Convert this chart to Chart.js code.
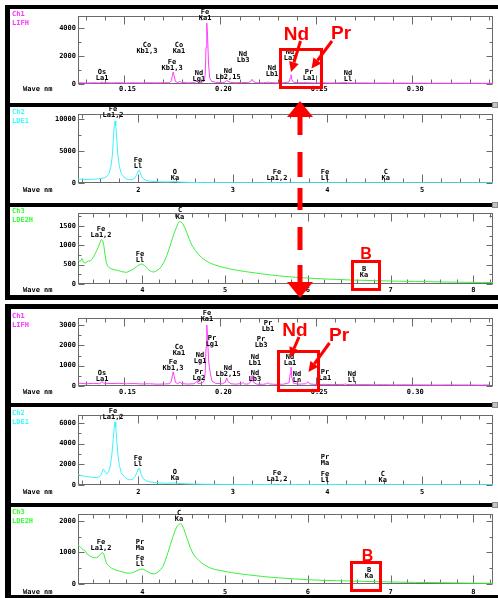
<!DOCTYPE html>
<html><head><meta charset="utf-8">
<script src="https://cdn.jsdelivr.net/npm/chart.js@4.4.1/dist/chart.umd.min.js"></script>
<style>
html,body{margin:0;padding:0;background:#fff;}
body{width:498px;height:598px;overflow:hidden;position:relative;}
canvas{position:absolute;left:0;z-index:2;}
.bar{position:absolute;background:#000;z-index:1;}
.sq{position:absolute;background:#c4c4c4;border:1px solid #8a8a8a;box-sizing:border-box;z-index:1;}
.hdr{position:absolute;left:12px;font:bold 7px "DejaVu Sans Mono",monospace;line-height:9px;z-index:3;white-space:pre;}
#ann{position:absolute;left:0;top:0;z-index:5;}
</style></head><body>
<div class="bar" style="left:5px;top:5px;width:493px;height:4px"></div>
<div class="bar" style="left:5px;top:5px;width:5px;height:295px"></div>
<div class="bar" style="left:5px;top:103px;width:487px;height:4px"></div>
<div class="bar" style="left:5px;top:203px;width:487px;height:4px"></div>
<div class="bar" style="left:5px;top:295px;width:493px;height:5px"></div>
<div class="bar" style="left:5px;top:304px;width:493px;height:5px"></div>
<div class="bar" style="left:5px;top:304px;width:6px;height:294px"></div>
<div class="bar" style="left:5px;top:403px;width:487px;height:4px"></div>
<div class="bar" style="left:5px;top:503px;width:487px;height:4px"></div>
<div class="bar" style="left:5px;top:595px;width:493px;height:3px"></div>
<div class="sq" style="left:492px;top:102px;width:6px;height:6px"></div>
<div class="sq" style="left:492px;top:202px;width:6px;height:6px"></div>
<div class="sq" style="left:492px;top:402px;width:6px;height:6px"></div>
<div class="sq" style="left:492px;top:502px;width:6px;height:6px"></div>

<div class="hdr" style="top:10px;color:#ff33ff">Ch1
LIFH</div>
<div class="hdr" style="top:108px;color:#33ffff">Ch2
LDE1</div>
<div class="hdr" style="top:207px;color:#33ff33">Ch3
LDE2H</div>
<div class="hdr" style="top:312px;color:#ff33ff">Ch1
LIFH</div>
<div class="hdr" style="top:409px;color:#33ffff">Ch2
LDE1</div>
<div class="hdr" style="top:508px;color:#33ff33">Ch3
LDE2H</div>

<canvas id="c1" width="498" height="93" style="top:4px"></canvas>
<canvas id="c2" width="498" height="94" style="top:102px"></canvas>
<canvas id="c3" width="498" height="96" style="top:201px"></canvas>
<canvas id="c4" width="498" height="93" style="top:306px"></canvas>
<canvas id="c5" width="498" height="95" style="top:403px"></canvas>
<canvas id="c6" width="498" height="95" style="top:502px"></canvas>

<svg id="ann" width="498" height="598" xmlns="http://www.w3.org/2000/svg">
 <g fill="none" stroke="#ff0000" stroke-width="3">
  <rect x="280.5" y="49.5" width="41" height="38"/>
  <rect x="278.5" y="351.5" width="40" height="39"/>
  <rect x="352.5" y="261.5" width="27" height="28"/>
  <rect x="351.5" y="562.5" width="29" height="28"/>
 </g>
 <g id="arrows" fill="#ff0000" stroke="none">
  <polygon points="300,101 287,117 313,117"/>
  <rect x="297.5" y="117" width="5" height="18"/>
  <rect x="297.5" y="152" width="5" height="25"/>
  <rect x="297.5" y="188" width="5" height="22"/>
  <rect x="297.5" y="227" width="5" height="23"/>
  <rect x="297.5" y="265" width="5" height="17"/>
  <polygon points="287,282 313,282 300,298"/>
 </g>
 <g fill="#ff0000" font-family="Liberation Sans, Arial, sans-serif" font-weight="bold" text-anchor="middle">
  <text x="296.5" y="39.5" font-size="19">Nd</text>
  <text x="341" y="38.5" font-size="19">Pr</text>
  <text x="295" y="335.5" font-size="19">Nd</text>
  <text x="339" y="341" font-size="19">Pr</text>
  <text x="366" y="258.5" font-size="16">B</text>
  <text x="367.5" y="561" font-size="16">B</text>
 </g>
</svg>

<script>
// ---------- tick values / labels ----------
const lifhTicks = [0.15, 0.20, 0.25, 0.30];
const lifhTickLabels = ['0.15', '0.20', '0.25', '0.30'];
const lde1Ticks = [2, 3, 4, 5];
const lde1TickLabels = ['2', '3', '4', '5'];
const lde2Ticks = [4, 5, 6, 7, 8];
const lde2TickLabels = ['4', '5', '6', '7', '8'];

const y1Ticks = [0, 2000, 4000];
const y2Ticks = [0, 5000, 10000];
const y3Ticks = [0, 500, 1000, 1500];
const y4Ticks = [0, 1000, 2000, 3000];
const y5Ticks = [0, 2000, 4000, 6000];
const y6Ticks = [0, 1000, 2000];

// ---------- series: frame 1 ----------
const ch1aX = [0.1260,0.1300,0.1340,0.1370,0.1378,0.1383,0.1390,0.1430,0.1470,0.1510,0.1550,0.1590,0.1630,0.1670,0.1710,0.1735,0.1744,0.1750,0.1754,0.1759,0.1766,0.1778,0.1785,0.1790,0.1797,0.1830,0.1862,0.1872,0.1878,0.1886,0.1905,0.1915,0.1921,0.1925,0.1929,0.1933,0.1938,0.1944,0.1954,0.1975,0.2010,0.2025,0.2033,0.2040,0.2055,0.2080,0.2110,0.2145,0.2158,0.2165,0.2172,0.2190,0.2225,0.2240,0.2248,0.2256,0.2290,0.2330,0.2358,0.2364,0.2368,0.2373,0.2382,0.2410,0.2435,0.2442,0.2450,0.2490,0.2530,0.2570,0.2610,0.2645,0.2652,0.2660,0.2700,0.2750,0.2800,0.2850,0.2900,0.2950,0.3000,0.3050,0.3100,0.3150,0.3200,0.3250,0.3300,0.3350,0.3400,0.3421];
const ch1aY = [90,70,85,75,110,150,95,75,90,70,85,75,90,80,95,90,220,620,850,560,170,100,160,185,110,85,95,150,200,110,140,200,700,2600,4350,3500,1500,450,190,120,100,140,260,190,110,90,110,95,180,330,170,90,85,110,140,100,80,90,140,420,660,300,120,90,95,130,95,75,85,70,80,95,120,80,70,75,60,70,55,65,55,60,50,55,50,55,50,50,45,50];

const ch2aX = [1.363,1.40,1.45,1.50,1.55,1.60,1.64,1.67,1.69,1.71,1.725,1.735,1.745,1.754,1.762,1.772,1.785,1.80,1.82,1.85,1.88,1.91,1.94,1.965,1.985,1.998,2.007,2.017,2.03,2.05,2.08,2.12,2.17,2.23,2.30,2.36,2.39,2.43,2.50,2.58,2.70,2.85,3.0,3.3,3.47,3.6,4.0,4.5,5.0,5.4,5.75];
const ch2aY = [620,580,540,560,610,680,800,1050,1500,2500,4200,6500,8800,9700,9000,6800,4300,2600,1500,900,600,480,560,800,1350,1850,2030,1800,1200,700,420,300,230,180,160,200,210,150,110,80,60,50,45,40,55,40,35,35,30,30,30];

const ch3aX = [3.224,3.25,3.27,3.29,3.31,3.33,3.35,3.37,3.39,3.41,3.43,3.45,3.47,3.49,3.505,3.52,3.535,3.55,3.565,3.58,3.60,3.63,3.66,3.69,3.72,3.75,3.78,3.81,3.84,3.87,3.90,3.93,3.96,3.99,4.01,4.03,4.05,4.08,4.11,4.14,4.17,4.20,4.23,4.26,4.29,4.32,4.35,4.38,4.41,4.43,4.45,4.47,4.49,4.51,4.54,4.57,4.60,4.64,4.68,4.72,4.77,4.82,4.88,4.94,5.00,5.08,5.16,5.25,5.35,5.45,5.55,5.65,5.75,5.85,5.95,6.05,6.2,6.35,6.5,6.65,6.8,6.95,7.1,7.3,7.5,7.7,7.9,8.1,8.238];
const ch3aY = [620,580,660,560,540,570,600,590,640,700,780,870,960,1080,1150,1130,1000,750,560,470,420,390,370,360,340,320,310,300,330,360,400,450,490,520,500,480,420,360,320,310,340,380,450,560,700,880,1080,1290,1450,1560,1620,1600,1560,1470,1320,1150,1000,870,760,680,600,540,490,450,420,380,350,320,290,260,235,210,190,175,160,148,130,118,105,95,88,80,72,65,58,50,45,40,38];

// ---------- series: frame 2 ----------
const ch1bX = [0.1260,0.1300,0.1340,0.1370,0.1378,0.1383,0.1390,0.1430,0.1470,0.1510,0.1550,0.1590,0.1630,0.1670,0.1710,0.1735,0.1744,0.1750,0.1754,0.1759,0.1766,0.1778,0.1785,0.1790,0.1797,0.1830,0.1862,0.1870,0.1877,0.1884,0.1905,0.1915,0.1921,0.1925,0.1929,0.1933,0.1938,0.1943,0.1948,0.1956,0.1975,0.2010,0.2025,0.2033,0.2040,0.2055,0.2080,0.2110,0.2118,0.2126,0.2145,0.2158,0.2165,0.2172,0.2190,0.2225,0.2240,0.2248,0.2256,0.2290,0.2330,0.2358,0.2364,0.2368,0.2373,0.2382,0.2410,0.2445,0.2457,0.2465,0.2500,0.2540,0.2580,0.2620,0.2645,0.2652,0.2660,0.2700,0.2750,0.2800,0.2850,0.2900,0.2950,0.3000,0.3050,0.3100,0.3150,0.3200,0.3250,0.3300,0.3350,0.3400,0.3421];
const ch1bY = [140,110,130,110,160,220,140,120,130,110,120,100,110,90,100,110,240,520,700,480,180,110,170,190,120,95,110,160,230,120,140,250,650,1900,3000,2500,1300,900,600,240,130,110,180,400,220,110,90,120,170,100,95,200,520,180,90,85,110,160,100,80,90,160,600,930,400,130,90,110,210,100,75,80,70,75,80,100,75,65,70,60,65,55,60,55,55,50,50,55,50,50,45,50];

const ch2bX = [1.363,1.40,1.45,1.50,1.55,1.58,1.60,1.615,1.630,1.645,1.66,1.675,1.69,1.705,1.72,1.735,1.745,1.754,1.762,1.772,1.785,1.80,1.82,1.85,1.88,1.91,1.94,1.965,1.985,1.998,2.007,2.017,2.03,2.05,2.08,2.12,2.17,2.23,2.30,2.36,2.39,2.43,2.50,2.58,2.70,2.85,3.0,3.3,3.47,3.6,4.0,4.5,5.0,5.4,5.75];
const ch2bY = [1000,900,820,760,720,760,880,1200,1550,1350,1120,1100,1350,1900,2900,4400,5500,6100,5600,4300,2900,1900,1200,800,600,500,560,800,1200,1500,1640,1500,1050,650,420,300,240,200,170,190,200,150,120,90,70,60,55,45,60,45,40,35,35,30,30];

const ch3bX = [3.224,3.25,3.27,3.29,3.31,3.33,3.36,3.39,3.42,3.45,3.48,3.50,3.52,3.535,3.55,3.57,3.60,3.63,3.67,3.71,3.75,3.79,3.83,3.87,3.91,3.95,3.98,4.01,4.04,4.07,4.10,4.13,4.16,4.19,4.22,4.25,4.28,4.31,4.34,4.37,4.40,4.42,4.44,4.46,4.48,4.50,4.52,4.55,4.58,4.61,4.64,4.68,4.72,4.77,4.82,4.88,4.94,5.00,5.08,5.16,5.25,5.35,5.45,5.55,5.65,5.75,5.85,5.95,6.05,6.2,6.35,6.5,6.65,6.8,6.95,7.1,7.3,7.5,7.7,7.9,8.1,8.238];
const ch3bY = [1230,1180,1120,1080,1050,960,900,860,830,840,900,960,1000,950,800,640,560,500,450,420,390,360,340,350,390,440,470,470,430,380,340,320,330,380,450,560,760,1000,1250,1500,1720,1830,1880,1920,1880,1760,1600,1380,1150,980,860,760,660,580,510,460,430,400,360,330,300,270,240,215,195,175,160,145,130,115,105,95,85,75,68,60,52,45,38,30,25,22];

// ---------- peak labels ----------
const pk1Top = ['Os','Co','Co','Fe','Fe','Nd','Nd','Nd','Nd','Nd','Pr','Nd'];
const pk1Bot = ['La1','Kb1,3','Ka1','Kb1,3','Ka1','Lg1','Lb2,15','Lb3','Lb1','La1','La1','Ll'];
const pk1X = [0.1383,0.1617,0.1784,0.1748,0.1920,0.1888,0.2040,0.2118,0.2269,0.2363,0.2462,0.2665];
const pk1Y = [857,2786,2786,1571,5140,786,929,2143,1143,2286,857,786];

const pk2Top = ['Fe','Fe','O','Fe','Fe','C'];
const pk2Bot = ['La1,2','Ll','Ka','La1,2','Ll','Ka'];
const pk2X = [1.733,1.997,2.388,3.466,3.973,4.617];
const pk2Y = [11560,3594,1719,1719,1719,1719];

const pk3Top = ['Fe','Fe','C','B'];
const pk3Bot = ['La1,2','Ll','Ka','Ka'];
const pk3X = [3.501,3.972,4.456,6.679];
const pk3Y = [1422,776,1900,388];

const pk4Top = ['Os','Co','Fe','Fe','Pr','Nd','Pr','Nd','Nd','Nd','Pr','Pr','Nd','Nd','Pr','Nd'];
const pk4Bot = ['La1','Ka1','Kb1,3','Ka1','Lg1','Lg1','Lg2','Lb2,15','Lb3','Lb1','Lb3','Lb1','La1','Ln','La1','Ll'];
const pk4X = [0.1383,0.1784,0.1753,0.1930,0.1956,0.1894,0.1888,0.2040,0.2180,0.2180,0.2212,0.2248,0.2363,0.2399,0.2545,0.2686];
const pk4Y = [639,1918,1180,3590,2361,1525,689,885,639,1426,2311,3098,1426,590,689,590];

const pk5Top = ['Fe','Fe','O','Fe','Pr','Fe','C'];
const pk5Bot = ['La1,2','Ll','Ka','La1,2','Ma','Ll','Ka'];
const pk5X = [1.733,1.997,2.388,3.466,3.973,3.973,4.585];
const pk5Y = [7161,2613,1258,1161,2710,1064,1064];

const pk6Top = ['Fe','Pr','Fe','C','B'];
const pk6Bot = ['La1,2','Ma','Ll','Ka','Ka'];
const pk6X = [3.501,3.972,3.972,4.444,6.74];
const pk6Y = [1333,1333,825,2254,444];

// ---------- helpers ----------
function steps(a, b, s) { const r = []; for (let v = a; v <= b + s / 1000; v += s) r.push(Math.round(v * 10000) / 10000); return r; }
const FONT = {family: 'DejaVu Sans Mono', size: 7, weight: 'bold'};

function framePlugin(o) {
  return {
    id: 'frame',
    beforeDatasetsDraw(chart) {
      const {ctx, chartArea: a, scales: {x, y}} = chart;
      ctx.save();
      ctx.strokeStyle = '#6a6a6a';
      ctx.lineWidth = 1;
      const L = Math.round(a.left) + 0.5, R = Math.round(a.right) - 0.5;
      const T = Math.round(a.top) + 0.5, B = Math.round(a.bottom) - 0.5;
      ctx.strokeRect(L, T, R - L, B - T);
      ctx.beginPath();
      o.xMinor.forEach(v => {
        const px = Math.round(x.getPixelForValue(v)) + 0.5;
        const major = o.xTicks.some(t => Math.abs(t - v) < 1e-6);
        const len = major ? 8 : 4;
        ctx.moveTo(px, T); ctx.lineTo(px, T + len);
        ctx.moveTo(px, B); ctx.lineTo(px, B - len);
      });
      o.yMinor.forEach(v => {
        const py = Math.round(y.getPixelForValue(v)) + 0.5;
        const major = o.yTicks.includes(v);
        const len = major ? 6 : 3;
        ctx.moveTo(L, py); ctx.lineTo(L + len, py);
        ctx.moveTo(R, py); ctx.lineTo(R - len, py);
      });
      ctx.stroke();
      ctx.restore();
    },
    afterDraw(chart) {
      const {ctx, chartArea: a, scales: {x, y}} = chart;
      ctx.save();
      ctx.font = 'bold 7px "DejaVu Sans Mono"';
      ctx.fillStyle = '#000';
      ctx.textAlign = 'center';
      ctx.textBaseline = 'middle';
      o.pkTop.forEach((t, i) => {
        const px = x.getPixelForValue(o.pkX[i]);
        const py = y.getPixelForValue(o.pkY[i]);
        ctx.fillText(t, px, py);
        ctx.fillText(o.pkBot[i], px, py + 6.5);
      });
      ctx.textAlign = 'left';
      ctx.fillText('Wave nm', 23, a.bottom + o.gap);
      ctx.restore();
    }
  };
}

function build(id, o) {
  const pts = o.xs.map((v, i) => ({x: v, y: o.ys[i]}));
  return new Chart(document.getElementById(id), {
    type: 'line',
    data: {datasets: [{data: pts, borderColor: o.color, borderWidth: 1, pointRadius: 0, tension: 0, fill: false}]},
    options: {
      responsive: false,
      animation: false,
      layout: {padding: {top: 12, right: 5, left: 0, bottom: 0}},
      plugins: {legend: {display: false}, tooltip: {enabled: false}},
      scales: {
        x: {
          type: 'linear', min: o.xMin, max: o.xMax,
          grid: {display: false, drawTicks: false}, border: {display: false},
          afterBuildTicks: s => { s.ticks = o.xTicks.map(v => ({value: v})); },
          afterFit: s => { s.height = 13; },
          ticks: {autoSkip: false, maxRotation: 0, minRotation: 0, padding: o.gap - 4.2, labelOffset: o.labelOffset || 0,
                  font: FONT, color: '#000', callback: (v, i) => o.xLabels[i]}
        },
        y: {
          type: 'linear', min: 0, max: o.yMax,
          grid: {display: false, drawTicks: false}, border: {display: false},
          afterBuildTicks: s => { s.ticks = o.yTicks.map(v => ({value: v})); },
          afterFit: s => { s.width = 78; },
          ticks: {padding: 2, font: FONT, color: '#000', callback: (v, i) => String(o.yTicks[i])}
        }
      }
    },
    plugins: [framePlugin(o)]
  });
}

const MAG = '#ff3dff', CYA = '#3ff0ff', GRN = '#3cf03c';
const lifhMinor = steps(0.13, 0.34, 0.01);
const lde1Minor = steps(1.4, 5.6, 0.2);
const lde2Minor = steps(3.4, 8.2, 0.2);

build('c1', {xs: ch1aX, ys: ch1aY, color: MAG, xMin: 0.12576, xMax: 0.34213, yMax: 4857, gap: 5.5,
  xTicks: lifhTicks, xLabels: lifhTickLabels, yTicks: y1Ticks, xMinor: lifhMinor, yMinor: steps(0, 4000, 1000),
  labelOffset: 3, pkTop: pk1Top, pkBot: pk1Bot, pkX: pk1X, pkY: pk1Y});
build('c2', {xs: ch2aX, ys: ch2aY, color: CYA, xMin: 1.3626, xMax: 5.7505, yMax: 10781, gap: 7,
  xTicks: lde1Ticks, xLabels: lde1TickLabels, yTicks: y2Ticks, xMinor: lde1Minor, yMinor: steps(0, 10000, 2500),
  pkTop: pk2Top, pkBot: pk2Bot, pkX: pk2X, pkY: pk2Y});
build('c3', {xs: ch3aX, ys: ch3aY, color: GRN, xMin: 3.223, xMax: 8.238, yMax: 1836, gap: 6,
  xTicks: lde2Ticks, xLabels: lde2TickLabels, yTicks: y3Ticks, xMinor: lde2Minor, yMinor: steps(0, 1750, 250),
  pkTop: pk3Top, pkBot: pk3Bot, pkX: pk3X, pkY: pk3Y});
build('c4', {xs: ch1bX, ys: ch1bY, color: MAG, xMin: 0.12576, xMax: 0.34213, yMax: 3345, gap: 6.5,
  xTicks: lifhTicks, xLabels: lifhTickLabels, yTicks: y4Ticks, xMinor: lifhMinor, yMinor: steps(0, 3000, 500),
  labelOffset: 3, pkTop: pk4Top, pkBot: pk4Bot, pkX: pk4X, pkY: pk4Y});
build('c5', {xs: ch2bX, ys: ch2bY, color: CYA, xMin: 1.3626, xMax: 5.7505, yMax: 6774, gap: 7.5,
  xTicks: lde1Ticks, xLabels: lde1TickLabels, yTicks: y5Ticks, xMinor: lde1Minor, yMinor: steps(0, 6000, 1000),
  pkTop: pk5Top, pkBot: pk5Bot, pkX: pk5X, pkY: pk5Y});
build('c6', {xs: ch3bX, ys: ch3bY, color: GRN, xMin: 3.223, xMax: 8.238, yMax: 2222, gap: 8,
  xTicks: lde2Ticks, xLabels: lde2TickLabels, yTicks: y6Ticks, xMinor: lde2Minor, yMinor: steps(0, 2000, 500),
  pkTop: pk6Top, pkBot: pk6Bot, pkX: pk6X, pkY: pk6Y});

// red pointer arrows (annotation overlay)
(function () {
  const g = document.getElementById('arrows');
  const NS = 'http://www.w3.org/2000/svg';
  function arrow(x1, y1, x2, y2) {
    const dx = x2 - x1, dy = y2 - y1, len = Math.hypot(dx, dy);
    const ux = dx / len, uy = dy / len, nx = -uy, ny = ux;
    const hl = 10, hw = 5;
    const bx = x2 - ux * hl, by = y2 - uy * hl;
    const line = document.createElementNS(NS, 'line');
    line.setAttribute('x1', x1); line.setAttribute('y1', y1);
    line.setAttribute('x2', bx); line.setAttribute('y2', by);
    line.setAttribute('stroke', '#ff0000'); line.setAttribute('stroke-width', '3');
    g.appendChild(line);
    const p = document.createElementNS(NS, 'polygon');
    p.setAttribute('points', `${x2},${y2} ${bx + nx * hw},${by + ny * hw} ${bx - nx * hw},${by - ny * hw}`);
    g.appendChild(p);
  }
  arrow(300.5, 41, 291, 72);
  arrow(332, 41, 311.5, 68.5);
  arrow(299, 337, 290, 357.5);
  arrow(329.5, 343, 308.5, 372);
})();
</script>
</body></html>
